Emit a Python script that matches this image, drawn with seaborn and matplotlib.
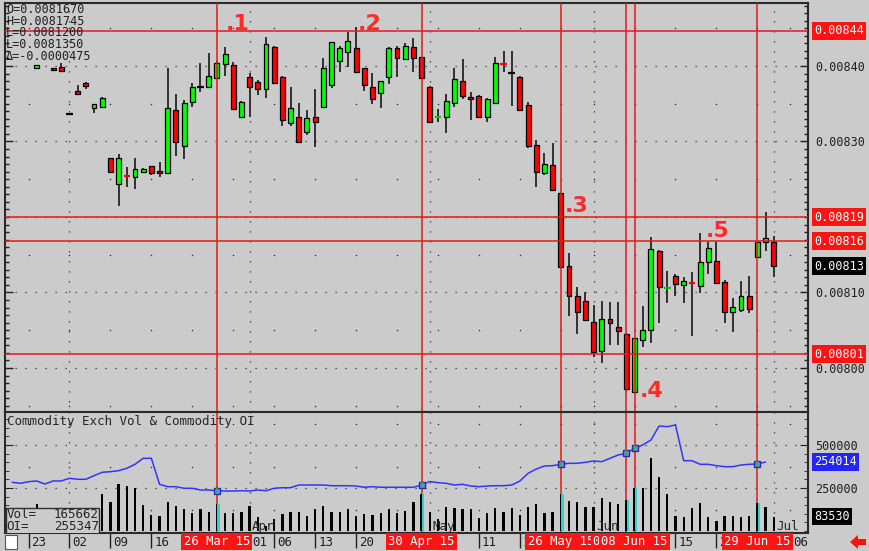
import numpy as np
import pandas as pd
import matplotlib
matplotlib.use("Agg")
import matplotlib.pyplot as plt
import matplotlib.transforms as mtransforms
from matplotlib.patches import Rectangle, Polygon
from matplotlib.ticker import MultipleLocator
import seaborn as sns

nan = float("nan")

# daily bars, index 0 = Mon 23 Feb 2015 (trading days); prices in units of 1e-7
opens = [nan, 83974, nan, 83970, 83991, 83364, 83669, 83779, 83440, 83461,
         82778, 82433, 82550, 82526, 82596, 82675, 82609, 82579, 83417, 82940,
         83527, 83726, 83726, 83837, 84026, 84013, 83328, 83858, 83784, 83691,
         84248, 83858, 83249, 83328, 83122, 83328, 83453, 83748, 84070, 84181,
         84234, 83970, 83726, 83646, 83850, 84234, 84089, 84248, 84115, 83726,
         83325, 83328, 83506, 83797, 83593, 83603, 83328, 83506, 84028, 83911,
         83858, 83483, 82954, 82579, 82689, 82314, 81351, 80954, 80891, 80613,
         80225, 80645, 80547, 80450, 79678, 80371, 80503, 81554, 81062, 81219,
         81099, 81124, 81090, 81400, 81421, 81143, 80746, 80768, 80954, 81466,
         81665, 81670]
highs = [nan, 84015, nan, 83975, 84044, 83368, 83748, 83792, 83500, 83585,
         82785, 82834, 82658, 82778, 82653, 82680, 82724, 83970, 83625, 83550,
         83771, 84044, 84168, 84060, 84248, 84057, 83530, 83903, 83815, 84384,
         84260, 83870, 83726, 83506, 83417, 83695, 84102, 84320, 84265, 84454,
         84513, 83975, 83903, 83805, 84256, 84265, 84301, 84367, 84120, 83730,
         83427, 83629, 83970, 84089, 83660, 83610, 83570, 84115, 84199, 84199,
         83870, 83527, 83020, 82844, 82976, 82320, 81519, 81077, 81003, 80834,
         80891, 80878, 80870, 80460, 80400, 80825, 81731, 81560, 81289, 81245,
         81209, 81268, 81784, 81665, 81665, 81166, 80923, 81156, 81219, 81670,
         82070, 81745]
lows = [nan, 83970, nan, 83945, 83935, 83360, 83616, 83691, 83382, 83455,
        82585, 82150, 82393, 82371, 82590, 82552, 82526, 82575, 82812, 82768,
        83461, 83660, 83718, 83830, 83868, 83417, 83320, 83328, 83616, 83572,
        83760, 83205, 83205, 82990, 83086, 82931, 83440, 83705, 83925, 83991,
        83920, 83673, 83497, 83440, 83762, 83850, 84080, 83917, 83840, 83249,
        83262, 83109, 83453, 83559, 83285, 83320, 83254, 83500, 83925, 83474,
        83410, 82910, 82401, 82556, 82348, 81320, 80689, 80450, 80630, 80150,
        80062, 80305, 80305, 79700, 79670, 80274, 80335, 80600, 80857, 80958,
        80857, 80428, 80989, 81245, 81110, 80600, 80481, 80746, 80725, 81460,
        81554, 81200]
closes = [nan, 84009, nan, 83947, 83938, 83364, 83625, 83735, 83493, 83580,
          82592, 82778, 82545, 82632, 82632, 82579, 82579, 83448, 82989, 83506,
          83726, 83726, 83872, 84044, 84155, 83430, 83527, 83726, 83691, 84291,
          83771, 83285, 83448, 82997, 83315, 83254, 83970, 84314, 84234, 84331,
          83925, 83748, 83563, 83801, 84234, 84102, 84265, 84110, 83845, 83262,
          83330, 83540, 83824, 83603, 83559, 83328, 83563, 84036, 84024, 83911,
          83417, 82940, 82592, 82698, 82358, 81334, 80954, 80746, 80636, 80216,
          80645, 80592, 80494, 79718, 80393, 80503, 81576, 81077, 81066, 81113,
          81156, 81120, 81408, 81585, 81122, 80746, 80804, 80954, 80781, 81665,
          81718, 81350]
volume = [nan, 155000, nan, 60000, 70000, 90000, 100000, 110000, 120000, 213000,
          170000, 271000, 264000, 248000, 151000, 93000, 87000, 167000, 145000, 128000,
          103000, 128000, 109000, 155000, 103000, 103000, 109000, 147000, 83000, 30000,
          70000, 99000, 112000, 109000, 89000, 128000, 147000, 109000, 112000, 126000,
          87000, 97000, 93000, 103000, 126000, 103000, 118000, 167000, 213000, 112000,
          70000, 138000, 135000, 126000, 128000, 77000, 103000, 135000, 109000, 132000,
          93000, 141000, 157000, 103000, 112000, 213000, 176000, 170000, 138000, 141000,
          190000, 170000, 155000, 180000, 248000, 248000, 423000, 312000, 213000, 87000,
          80000, 132000, 165000, 80000, 60000, 89000, 87000, 80000, 87000, 165000,
          138000, 83530]
oi_start = -2
open_interest = [179300, 175600, 181500, 184100, 173000, 184100, 184100, 194000, 190300, 190300,
                 203600, 216100, 218300, 222000, 230800, 245500, 267600, 267600, 171900, 163100,
                 163100, 157200, 157200, 150900, 150900, 148300, 147200, 147200, 148300, 147200,
                 150900, 148300, 157200, 159400, 159400, 169300, 169300, 169300, 169300, 166700,
                 166700, 166700, 165600, 160900, 163100, 160900, 160900, 160900, 160900, 160900,
                 169300, 182200, 177800, 175600, 169300, 171900, 165600, 163100, 165600, 166700,
                 166700, 169300, 184100, 212400, 228200, 239300, 240400, 245500, 249200, 249200,
                 252900, 257700, 255100, 267600, 279800, 286000, 304400, 316600, 335000, 386500,
                 383900, 390200, 258800, 258800, 245500, 245500, 240400, 236700, 236700, 242900,
                 245500, 246600, 254014]

# marked days (red vertical lines) and their date boxes
marked_idx = [23, 48, 65, 73, 74, 89]
marked_text = ["26 Mar 15", "30 Apr 15", "26 May 15", "05 Jun 15", "08 Jun 15", "29 Jun 15"]
# horizontal level lines
level_prices = [0.0084464, 0.0081999, 0.0081682, 0.0080185]
level_text = ["0.00844", "0.00819", "0.00816", "0.00801"]
# date axis (labels left visible by the date boxes)
date_tick_idx = [0, 5, 10, 15, 27, 30, 35, 40, 55, 60, 79, 84, 93]
date_tick_text = ["23", "02", "09", "16", "01", "06", "13", "20", "11", "18", "15", "22", "06"]
week_idx = [0, 5, 10, 15, 20, 25, 30, 35, 40, 45, 50, 55, 60, 65, 69, 74, 79, 84, 89, 93]
month_idx = [27, 49, 69, 91]
month_text = ["Apr", "May", "Jun", "Jul"]
price_ticks = [0.0080, 0.0081, 0.0083, 0.0084]
vol_ticks = [250000, 500000]
info_lines = ["O=0.0081670", "H=0.0081745", "L=0.0081200", "L=0.0081350", "\u0394=-0.0000475"]

BG = "#cbcbcb"
GREEN = "#00ff00"
RED = "#ff0000"
LINE_RED = "#e31a1a"
BLUE = "#3434ff"
DARK = "#2a2a2a"

sns.set_style("ticks", rc={"axes.facecolor": BG, "figure.facecolor": BG,
                           "axes.edgecolor": DARK, "axes.linewidth": 1.5})
plt.rcParams["font.family"] = ["DejaVu Sans Mono", "DejaVu Sans"]

W, H = 870, 551


def px_rect(x0, y0, x1, y1):
    return [x0 / W, 1 - y1 / H, (x1 - x0) / W, (y1 - y0) / H]


fig = plt.figure(figsize=(8.7, 5.51), dpi=100)
ax = fig.add_axes(px_rect(5, 3, 808, 412))
axv = fig.add_axes(px_rect(5, 412, 808, 533), sharex=ax)
axo = axv.twinx()

# ---------------- price candles ----------------
df = pd.DataFrame({"idx": np.arange(len(opens)), "open": opens, "high": highs,
                   "low": lows, "close": closes}).dropna()
for c in ["open", "high", "low", "close"]:
    df[c] = df[c] * 1e-7
doji = (df.close - df.open).abs() < 1.5e-6
ax.vlines(df.idx, df.low, df.high, color="#303030", lw=1.4, zorder=3)
big = df[~doji]
ax.bar(big.idx, (big.close - big.open).abs(), bottom=np.minimum(big.open, big.close),
       width=0.6, color=np.where(big.close > big.open, GREEN, RED),
       edgecolor="black", linewidth=0.9, zorder=4)
small = df[doji]
doji_col = np.where(small.close > small.open, "#10c010",
                    np.where(small.close < small.open, RED, "black"))
ax.hlines(small.close, small.idx - 0.4, small.idx + 0.4, colors=doji_col, lw=1.6, zorder=4)

# grid: dotted levels, month lines, sparse dots
for p in np.arange(0.0080, 0.00845, 0.0001):
    ax.axhline(p, color="#333333", lw=0.9, ls=(0, (1, 7)), zorder=1)
for m in [5] + month_idx:
    ax.axvline(m, color="#333333", lw=0.9, ls=(0, (1, 7)), zorder=1)
    axv.axvline(m, color="#333333", lw=0.9, ls=(0, (1, 7)), zorder=1)
gx, gy = np.meshgrid(week_idx, np.arange(0.00795, 0.00850, 0.0001))
ax.scatter(gx.ravel(), gy.ravel(), s=1.2, color="#333333", zorder=1, linewidths=0)

# red level and date lines
for p in level_prices:
    ax.axhline(p, color=LINE_RED, lw=1.1, zorder=5)
for i in marked_idx:
    ax.axvline(i, color=LINE_RED, lw=1.1, zorder=5)
    axv.axvline(i, color=LINE_RED, lw=1.1, zorder=2)

ax.set_xlim(-2.87, 95.18)
ax.set_ylim(0.00794172, 0.00848344)
ax.yaxis.set_major_locator(plt.FixedLocator(price_ticks))
ax.set_yticklabels([f"{v:.5f}" for v in price_ticks])
ax.yaxis.set_minor_locator(MultipleLocator(0.00001))
ax.tick_params(axis="y", which="both", direction="in", left=True, right=True,
               labelleft=False, labelright=True, labelsize=8.5, colors="#202020", pad=5)
ax.tick_params(axis="y", which="major", length=6, width=1)
ax.tick_params(axis="y", which="minor", length=3, width=1)
ax.tick_params(axis="x", which="both", bottom=False, top=False, labelbottom=False)

# right side boxes
ytr = mtransforms.blended_transform_factory(ax.transAxes, ax.transData)
for p, t in zip(level_prices, level_text):
    ax.text(1.008, p, t, transform=ytr, ha="left", va="center", fontsize=8.5, color="white",
            bbox=dict(boxstyle="square,pad=0.18", fc="#ff1414", ec="none"), zorder=10)
last = closes[-1] * 1e-7
ax.text(1.008, last, f"{np.floor(last * 1e5) / 1e5:.5f}", transform=ytr, ha="left",
        va="center", fontsize=8.5, color="white",
        bbox=dict(boxstyle="square,pad=0.18", fc="black", ec="none"), zorder=10)

# numbered labels
for t, xi, yp in [(".1", 25.5, 0.0084477), (".2", 41.6, 0.0084477), (".3", 66.9, 0.0082066),
                  (".4", 76.1, 0.0079616), (".5", 84.1, 0.0081735)]:
    ax.text(xi, yp, t, ha="center", va="baseline", fontsize=16, fontweight="bold",
            color="#ff2a2a", family="DejaVu Sans", zorder=8)

for k, line in enumerate(info_lines):
    fig.text(6 / W, 1 - (9.5 + 11.7 * k) / H, line, ha="left", va="center",
             fontsize=8.5, color="#202020")

# ---------------- volume & open interest ----------------
vol = pd.DataFrame({"idx": np.arange(len(volume)), "volume": volume}).dropna()
plain = vol[~vol.idx.isin(marked_idx)]
hit = vol[vol.idx.isin(marked_idx)]
axv.bar(plain.idx, plain.volume, width=0.28, color="black", linewidth=0,
        antialiased=False, zorder=3)
axv.bar(hit.idx, hit.volume, width=0.28, color="black", linewidth=0,
        antialiased=False, zorder=3)
axv.bar(hit.idx + 0.2, hit.volume, width=0.3, color="#33d0d0", linewidth=0,
        antialiased=False, zorder=3)
for v in vol_ticks:
    axv.axhline(v, color="#333333", lw=0.9, ls=(0, (1, 7)), zorder=1)
vx, vy = np.meshgrid(week_idx, [125000, 375000, 625000])
axv.scatter(vx.ravel(), vy.ravel(), s=1.2, color="#333333", zorder=1, linewidths=0)
axv.set_ylim(-11600, 691900)
axv.yaxis.set_major_locator(plt.FixedLocator(vol_ticks))
axv.set_yticklabels([str(v) for v in vol_ticks])
axv.yaxis.set_minor_locator(MultipleLocator(50000))
axv.tick_params(axis="y", which="both", direction="in", left=True, right=True,
                labelleft=False, labelright=True, labelsize=8.5, colors="#202020", pad=5)
axv.tick_params(axis="y", which="major", length=6)
axv.tick_params(axis="y", which="minor", length=3)

oi_idx = np.arange(oi_start, oi_start + len(open_interest))
oi = pd.DataFrame({"idx": oi_idx, "oi": open_interest})
sns.lineplot(data=oi, x="idx", y="oi", ax=axo, color=BLUE, lw=1.1, zorder=4)
mk = oi[oi.idx.isin(marked_idx)]
axo.plot(mk.idx, mk.oi, ls="none", marker="s", ms=5, mfc="#8080ff", mec="#2828b0", mew=1, zorder=6)
axo.plot(mk.idx, mk.oi, ls="none", marker="|", ms=5, color="#10d010", mew=1.2, zorder=7)
axo.set_ylim(-7362, 438000)
axo.set_yticks([])
axo.set_ylabel("")
axo.set_xlabel("")
for s in axo.spines.values():
    s.set_visible(False)
vtr = mtransforms.blended_transform_factory(axv.transAxes, axv.transData)
otr = mtransforms.blended_transform_factory(axo.transAxes, axo.transData)
axo.text(1.008, open_interest[-1], str(open_interest[-1]), transform=otr, ha="left",
         va="center", fontsize=8.5, color="white",
         bbox=dict(boxstyle="square,pad=0.18", fc="#2424ff", ec="none"), zorder=10)
axv.text(1.008, volume[-1], str(volume[-1]), transform=vtr, ha="left", va="center",
         fontsize=8.5, color="white",
         bbox=dict(boxstyle="square,pad=0.18", fc="black", ec="none"), zorder=10)

axv.text(0.003, 0.925, "Commodity Exch Vol & Commodity OI", transform=axv.transAxes,
         ha="left", va="center", fontsize=9, color="#252525", zorder=8)
xtr = mtransforms.blended_transform_factory(axv.transData, axv.transAxes)
for m, t in zip(month_idx, month_text):
    axv.text(m + 0.3, 0.05, t, transform=xtr, ha="left", va="center", fontsize=9,
             color="#252525", zorder=8)

# cursor readout box
axv.add_patch(Rectangle((-2.8, -0.02), 11.45, 0.225, transform=xtr, fc=BG,
                        ec="#303030", lw=1, zorder=8))
for yy, name, val in [(0.155, "Vol=", "165662"), (0.055, "OI=", "255347")]:
    axv.text(-2.7, yy, name, transform=xtr, ha="left", va="center", fontsize=9,
             color="#252525", zorder=9)
    axv.text(8.6, yy, val, transform=xtr, ha="right", va="center", fontsize=9,
             color="#252525", zorder=9)

# date axis
axv.set_xticks(date_tick_idx)
axv.set_xticklabels(date_tick_text)
axv.tick_params(axis="x", which="major", direction="out", length=11, width=1, pad=-9,
                labelsize=9, colors="#202020")
shift = mtransforms.ScaledTranslation(3 / 100, 0, fig.dpi_scale_trans)
for lab in axv.get_xticklabels():
    lab.set_horizontalalignment("left")
    lab.set_transform(lab.get_transform() + shift)
for i, t in zip(marked_idx, marked_text):
    axv.text(i, -0.072, t, transform=xtr, ha="center", va="center", fontsize=8.8,
             color="white", bbox=dict(boxstyle="square,pad=0.18", fc="#ff1414", ec="none"),
             zorder=10, clip_on=False)
axv.set_xlim(-2.87, 95.18)

for a in (ax, axv):
    for s in a.spines.values():
        s.set_color(DARK)
        s.set_linewidth(1.5)

# corner widgets
fig.patches.append(Rectangle((5 / W, 2 / H), 12 / W, 14 / H, transform=fig.transFigure,
                             fc="white", ec="#555555", lw=0.8))
arrow = [(850, 542), (858, 535), (858, 539), (866, 539), (866, 545), (858, 545), (858, 549)]
fig.patches.append(Polygon([(x / W, 1 - y / H) for x, y in arrow], closed=True,
                           transform=fig.transFigure, fc="#ff1010", ec="none"))

fig.savefig("out.png", dpi=100)
